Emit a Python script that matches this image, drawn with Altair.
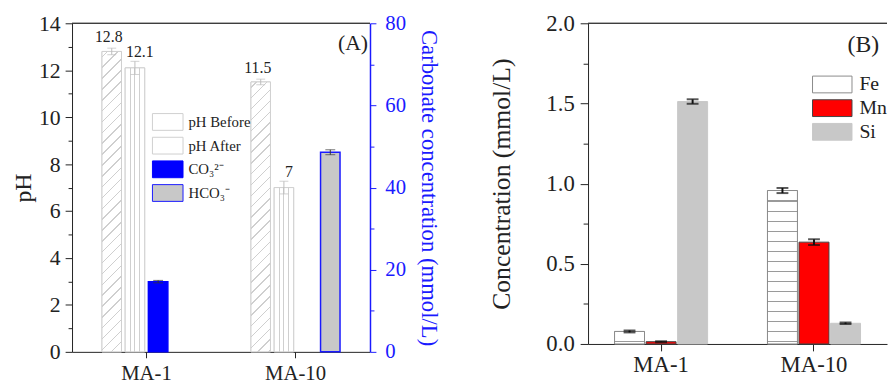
import altair as alt
import pandas as pd

# ---------------- data ----------------
categories = ["MA-1", "MA-10"]
ph_series = ["pH Before", "pH After"]
ph_before = [12.8, 11.5]
ph_before_err = [0.14, 0.12]
ph_after = [12.1, 7.0]
ph_after_err = [0.28, 0.27]
ph_before_labels = ["12.8", "11.5"]
ph_after_labels = ["12.1", "7"]

carb_species = ["CO₃²⁻", "HCO₃⁻"]
carb_category = ["MA-1", "MA-10"]
carb_value = [17.1, 48.6]
carb_err = [0.3, 0.6]

metals = ["Fe", "Mn", "Si"]
conc_ma1 = [0.078, 0.014, 1.512]
conc_ma10 = [0.957, 0.635, 0.129]
err_ma1 = [0.006, 0.003, 0.014]
err_ma10 = [0.016, 0.018, 0.005]

panel_labels = ["(A)", "(B)"]

# ---------------- tables ----------------
rows = []
for i, c in enumerate(categories):
    rows.append(dict(category=c, series=ph_series[0], value=ph_before[i],
                     lo=ph_before[i] - ph_before_err[i], hi=ph_before[i] + ph_before_err[i],
                     label=ph_before_labels[i]))
    rows.append(dict(category=c, series=ph_series[1], value=ph_after[i],
                     lo=ph_after[i] - ph_after_err[i], hi=ph_after[i] + ph_after_err[i],
                     label=ph_after_labels[i]))
df_ph = pd.DataFrame(rows)

df_carb = pd.DataFrame(dict(
    category=carb_category, series=carb_species, value=carb_value,
    lo=[v - e for v, e in zip(carb_value, carb_err)],
    hi=[v + e for v, e in zip(carb_value, carb_err)]))

rows = []
for i, m in enumerate(metals):
    rows.append(dict(category="MA-1", metal=m, value=conc_ma1[i],
                     lo=conc_ma1[i] - err_ma1[i], hi=conc_ma1[i] + err_ma1[i]))
    rows.append(dict(category="MA-10", metal=m, value=conc_ma10[i],
                     lo=conc_ma10[i] - err_ma10[i], hi=conc_ma10[i] + err_ma10[i]))
df_met = pd.DataFrame(rows)

# ---------------- geometry / style ----------------
FONT = "Liberation Serif"
WA, HA = 302, 333
WB, HB = 303, 325
BLUE = "#1a1aff"
HATCH = "#cfcfcf"
INK = "#222222"

series_order = ph_series + carb_species
xA_pad_in = 0.091
xoA_pad_in, xoA_pad_out = 0.16, 1.0
bwA = (WA / 2) * (1 - xA_pad_in) / (4 - xoA_pad_in + 2 * xoA_pad_out) * (1 - xoA_pad_in)
pxA = HA / 14.0

FONTS = dict(labelFont=FONT, titleFont=FONT, titleFontWeight="normal")


def stripe_stops(centers, total, thick, color, bg="white"):
    stops = [{"offset": 0, "color": bg}]
    for c in sorted(centers):
        a = max(0.0, min(1.0, (c - thick / 2) / total))
        b = max(0.0, min(1.0, (c + thick / 2) / total))
        stops += [{"offset": a, "color": bg}, {"offset": a, "color": color},
                  {"offset": b, "color": color}, {"offset": b, "color": bg}]
    stops.append({"offset": 1, "color": bg})
    return stops


def diag_gradient(w, h, period=11.0, thick=1.5, color=HATCH):
    a = w / h
    m = (1 + a) / (1 + a * a)
    total = w + h
    centers = []
    k = period / 2
    while k < total:
        centers.append(k)
        k += period
    return {"gradient": "linear", "x1": 0, "y1": 0, "x2": a * m, "y2": m,
            "stops": stripe_stops(centers, total, thick, color)}


def vert_gradient(w, n=3, thick=1.0, color=HATCH):
    centers = [w * (i + 1) / (n + 1) for i in range(n)]
    return {"gradient": "linear", "x1": 0, "y1": 0, "x2": 1, "y2": 0,
            "stops": stripe_stops(centers, w, thick, color)}


def horiz_gradient(h, period=10.17, first=2.3, thick=1.5, color="#9a9a9a"):
    centers = []
    d = first
    while d < h - 1:
        centers.append(h - d)
        d += period
    return {"gradient": "linear", "x1": 0, "y1": 0, "x2": 0, "y2": 1,
            "stops": stripe_stops(centers, h, thick, color)}


# ---------------- panel A ----------------
xA = alt.X("category:N", scale=alt.Scale(domain=categories, paddingInner=xA_pad_in,
                                         paddingOuter=xA_pad_in / 2),
           axis=alt.Axis(title=None, labelFontSize=21, labelAngle=0, tickSize=6, labelPadding=5,
                         domainColor=INK, tickColor=INK, labelColor=INK, **FONTS))
xoA = alt.XOffset("series:N", scale=alt.Scale(domain=series_order, paddingInner=xoA_pad_in,
                                                paddingOuter=xoA_pad_out))
yA_scale = alt.Scale(domain=[0, 14], nice=False, zero=True)
yA_axis = alt.Axis(title="pH", values=list(range(0, 15)),
                   labelExpr="datum.value % 2 ? '' : datum.label",
                   tickSize={"condition": {"test": "datum.value % 2 !== 0", "value": 4}, "value": 7},
                   labelFontSize=22, titleFontSize=24, titlePadding=3, labelPadding=5,
                   domainColor=INK, tickColor=INK, labelColor=INK, titleColor=INK, **FONTS)
yA = lambda f: alt.Y(f, scale=yA_scale, axis=yA_axis)

legA = alt.Legend(title=None, orient="none", legendX=81, legendY=91, padding=0,
                  symbolType="M-1,-1H2.647V1H-1Z", symbolSize=289, symbolStrokeWidth=1,
                  labelFont=FONT, labelFontSize=15, labelColor=INK, labelOffset=19, rowPadding=2)
fillA = alt.Fill("series:N", scale=alt.Scale(domain=series_order,
                                            range=["white", "white", "#0000ff", "#c8c8c8"]), legend=legA)
strokeA = alt.Stroke("series:N", scale=alt.Scale(domain=series_order,
                                                range=[HATCH, HATCH, "#0000ff", BLUE]), legend=legA)

baseA = alt.Chart(df_ph)
ph_bars = baseA.mark_bar(strokeWidth=1).encode(x=xA, xOffset=xoA, y=yA("value:Q"),
                                               fill=fillA, stroke=strokeA)

overlays = []
for i, c in enumerate(categories):
    overlays.append(
        baseA.transform_filter((alt.datum.series == ph_series[0]) & (alt.datum.category == c))
        .mark_bar(fill=diag_gradient(bwA, ph_before[i] * pxA), stroke=HATCH, strokeWidth=1)
        .encode(x=xA, xOffset=xoA, y=yA("value:Q")))
overlays.append(
    baseA.transform_filter(alt.datum.series == ph_series[1])
    .mark_bar(fill=vert_gradient(bwA), stroke=HATCH, strokeWidth=1)
    .encode(x=xA, xOffset=xoA, y=yA("value:Q")))

ph_err = baseA.mark_rule(color="#bdbdbd", strokeWidth=1).encode(
    x=xA, xOffset=xoA, y=yA("lo:Q"), y2="hi:Q")
ph_cap_lo = baseA.mark_tick(color="#bdbdbd", thickness=1, size=9).encode(
    x=xA, xOffset=xoA, y=yA("lo:Q"))
ph_cap_hi = baseA.mark_tick(color="#bdbdbd", thickness=1, size=9).encode(
    x=xA, xOffset=xoA, y=yA("hi:Q"))
txt_before = baseA.transform_filter(alt.datum.series == ph_series[0]).mark_text(
    baseline="bottom", dy=-3, dx=-3, fontSize=16, font=FONT, color=INK).encode(
    x=xA, xOffset=xoA, y=yA("hi:Q"), text="label:N")
txt_after = baseA.transform_filter(alt.datum.series == ph_series[1]).mark_text(
    baseline="bottom", dy=-1, dx=5, fontSize=16, font=FONT, color=INK).encode(
    x=xA, xOffset=xoA, y=yA("hi:Q"), text="label:N")

ph_layer = alt.layer(ph_bars, *overlays, ph_err, ph_cap_lo, ph_cap_hi, txt_before, txt_after)

yC_scale = alt.Scale(domain=[0, 80], nice=False, zero=True)
yC_axis = alt.Axis(title="Carbonate concentration (mmol/L)", orient="right",
                   values=list(range(0, 81, 10)),
                   labelExpr="datum.value % 20 ? '' : datum.label",
                   tickSize={"condition": {"test": "datum.value % 20 !== 0", "value": 4}, "value": 6},
                   labelFontSize=21, titleFontSize=23, titlePadding=11, labelPadding=9,
                   domainColor=BLUE, tickColor=BLUE, labelColor=BLUE, titleColor=BLUE,
                   domainWidth=1.5, **FONTS)
yC = lambda f: alt.Y(f, scale=yC_scale, axis=yC_axis)
baseC = alt.Chart(df_carb)
carb_bars = baseC.mark_bar(strokeWidth=1.5).encode(x=xA, xOffset=xoA, y=yC("value:Q"),
                                                   fill=fillA, stroke=strokeA)
carb_err_r = baseC.mark_rule(color="#333", strokeWidth=1).encode(
    x=xA, xOffset=xoA, y=yC("lo:Q"), y2="hi:Q")
carb_cap_lo = baseC.mark_tick(color="#333", thickness=1, size=10).encode(
    x=xA, xOffset=xoA, y=yC("lo:Q"))
carb_cap_hi = baseC.mark_tick(color="#333", thickness=1, size=10).encode(
    x=xA, xOffset=xoA, y=yC("hi:Q"))
carb_layer = alt.layer(carb_bars, carb_err_r, carb_cap_lo, carb_cap_hi)

lab_df = pd.DataFrame({"t": panel_labels})
topA = alt.Chart(lab_df).mark_rule(color="#333", strokeWidth=1).encode(
    x=alt.value(0), x2=alt.value(WA), y=alt.value(0))
tagA = alt.Chart(lab_df).transform_filter(alt.datum.t == panel_labels[0]).mark_text(
    align="right", baseline="middle", fontSize=22, font=FONT, color=INK).encode(
    x=alt.value(WA - 2), y=alt.value(20), text="t:N")

panelA = alt.layer(ph_layer, carb_layer, topA, tagA).resolve_scale(y="independent").properties(
    width=WA, height=HA)

# ---------------- panel B ----------------
xB = alt.X("category:N", scale=alt.Scale(domain=categories, paddingInner=0.045, paddingOuter=0),
           axis=alt.Axis(title=None, labelFontSize=23, labelAngle=0, tickSize=7, labelPadding=3,
                         domainColor=INK, tickColor=INK, labelColor=INK, **FONTS))
xoB = alt.XOffset("metal:N", scale=alt.Scale(domain=metals, paddingInner=0.05, paddingOuter=0.84))
yB_scale = alt.Scale(domain=[0, 2.0], nice=False, zero=True)
yB_axis = alt.Axis(title="Concentration (mmol/L)", values=[i * 0.25 for i in range(9)],
                   labelExpr="datum.value % 0.5 ? '' : format(datum.value, '.1f')",
                   tickSize={"condition": {"test": "datum.value % 0.5 !== 0", "value": 5}, "value": 8},
                   labelFontSize=23, titleFontSize=26, titlePadding=32, labelPadding=6,
                   domainColor=INK, tickColor=INK, labelColor=INK, titleColor=INK, **FONTS)
yB = lambda f: alt.Y(f, scale=yB_scale, axis=yB_axis)
legB = alt.Legend(title=None, orient="none", legendX=226, legendY=52, padding=0,
                  symbolType="M-1,-1H3.706V1H-1Z", symbolSize=289, symbolStrokeWidth=1,
                  labelFont=FONT, labelFontSize=20, labelColor=INK, labelOffset=29, rowPadding=2)
fillB = alt.Fill("metal:N", scale=alt.Scale(domain=metals, range=["white", "#ff0000", "#c8c8c8"]),
                 legend=legB)
strokeB = alt.Stroke("metal:N", scale=alt.Scale(domain=metals, range=["#8a8a8a", "#444444", "#c8c8c8"]),
                     legend=legB)
baseB = alt.Chart(df_met)
met_bars = baseB.mark_bar(strokeWidth=1).encode(x=xB, xOffset=xoB, y=yB("value:Q"),
                                                fill=fillB, stroke=strokeB)
pxB = HB / 2.0
fe_over = []
for c, v in zip(categories, [conc_ma1[0], conc_ma10[0]]):
    fe_over.append(
        baseB.transform_filter((alt.datum.metal == metals[0]) & (alt.datum.category == c))
        .mark_bar(fill=horiz_gradient(v * pxB), stroke="#8a8a8a", strokeWidth=1)
        .encode(x=xB, xOffset=xoB, y=yB("value:Q")))
met_err = baseB.mark_rule(color="#111", strokeWidth=2).encode(
    x=xB, xOffset=xoB, y=yB("lo:Q"), y2="hi:Q")
met_cap_lo = baseB.mark_tick(color="#111", thickness=2, size=12).encode(
    x=xB, xOffset=xoB, y=yB("lo:Q"))
met_cap_hi = baseB.mark_tick(color="#111", thickness=2, size=12).encode(
    x=xB, xOffset=xoB, y=yB("hi:Q"))
topB = alt.Chart(lab_df).mark_rule(color="#333", strokeWidth=1).encode(
    x=alt.value(0), x2=alt.value(WB), y=alt.value(0))
tagB = alt.Chart(lab_df).transform_filter(alt.datum.t == panel_labels[1]).mark_text(
    align="left", baseline="middle", fontSize=24, font=FONT, color=INK).encode(
    x=alt.value(263), y=alt.value(22), text="t:N")

panelB = alt.layer(met_bars, *fe_over, met_err, met_cap_lo, met_cap_hi, topB, tagB).properties(
    width=WB, height=HB)

chart = alt.hconcat(panelA, panelB, spacing=50).resolve_scale(
    fill="independent", stroke="independent", x="independent", xOffset="independent"
).resolve_legend(fill="independent", stroke="independent").properties(
    padding={"left": 12, "top": 10, "right": 0, "bottom": 0}
).configure(font=FONT).configure_view(stroke=None).configure_axis(grid=False, **FONTS)

chart.save("out.html", embed_options={"renderer": "svg", "actions": False})
